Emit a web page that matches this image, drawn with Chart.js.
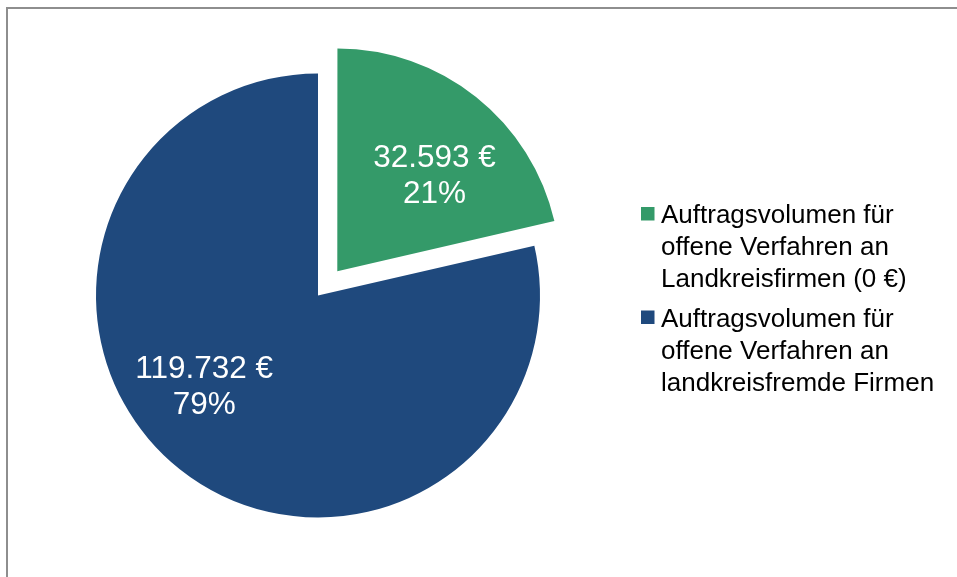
<!DOCTYPE html>
<html>
<head>
<meta charset="utf-8">
<script src="https://cdn.jsdelivr.net/npm/chart.js@4/dist/chart.umd.min.js"></script>
<style>
    html, body { margin: 0; padding: 0; background: #fff; overflow: hidden; }
    #frame {
        position: absolute; left: 6px; top: 7px; width: 1000px; height: 1000px;
        border: 2px solid #8e8e8e; box-sizing: border-box;
    }
    #chart { position: absolute; left: 0; top: 0; }
</style>
</head>
<body>
<div id="frame"></div>
<canvas id="chart" width="957" height="577"></canvas>
<script>
const categories = [
    ['Auftragsvolumen für', 'offene Verfahren an', 'Landkreisfirmen (0 €)'],
    ['Auftragsvolumen für', 'offene Verfahren an', 'landkreisfremde Firmen']
];
const volumes = [32593, 119732];
const amountLabels = ['32.593 €', '119.732 €'];
const percentLabels = ['21%', '79%'];
const colors = ['#349A69', '#1F497D'];

const fontFamily = '"Liberation Sans", Arial, sans-serif';

// white value labels inside the slices
const sliceLabels = {
    id: 'sliceLabels',
    afterDatasetsDraw(chart) {
        const ctx = chart.ctx;
        const arcs = chart.getDatasetMeta(0).data;
        const place = [{ frac: 0.757, shift: 5.4 }, { frac: 0.653, shift: 13.2 }];
        ctx.save();
        ctx.fillStyle = '#fff';
        ctx.font = '31.5px ' + fontFamily;
        ctx.textAlign = 'center';
        ctx.textBaseline = 'alphabetic';
        arcs.forEach((arc, i) => {
            const mid = (arc.startAngle + arc.endAngle) / 2 + place[i].shift * Math.PI / 180;
            const r = arc.outerRadius * place[i].frac;
            const x = arc.x + Math.cos(mid) * r;
            const y = arc.y + Math.sin(mid) * r;
            ctx.fillText(amountLabels[i], x, y - 7);
            ctx.fillText(percentLabels[i], x, y + 29);
        });
        ctx.restore();
    }
};

// legend on the right with wrapped text
const sideLegend = {
    id: 'sideLegend',
    afterDraw(chart) {
        const ctx = chart.ctx;
        const left = 641, lineH = 32, entryGap = 39.5;
        let y = 223;
        ctx.save();
        ctx.font = '26px ' + fontFamily;
        ctx.textBaseline = 'alphabetic';
        ctx.textAlign = 'left';
        categories.forEach((lines, i) => {
            ctx.fillStyle = colors[i];
            ctx.fillRect(left, y - 16, 13.5, 13.5);
            ctx.fillStyle = '#000';
            lines.forEach((t, j) => ctx.fillText(t, left + 20, y + j * lineH));
            y += (lines.length - 1) * lineH + entryGap;
        });
        ctx.restore();
    }
};

new Chart(document.getElementById('chart'), {
    type: 'pie',
    data: {
        labels: categories.map(c => c.join(' ')),
        datasets: [{
            data: volumes,
            backgroundColor: colors,
            borderWidth: 0,
            offset: [124, 0],   // v4 draws offset / 4
            hoverOffset: 0,
            radius: 222
        }]
    },
    options: {
        responsive: false,
        animation: false,
        events: [],
        layout: { padding: { left: 80.5, right: 401.5, top: 58, bottom: 44 } },
        plugins: {
            legend: { display: false },
            tooltip: { enabled: false }
        }
    },
    plugins: [sliceLabels, sideLegend]
});
</script>
</body>
</html>
